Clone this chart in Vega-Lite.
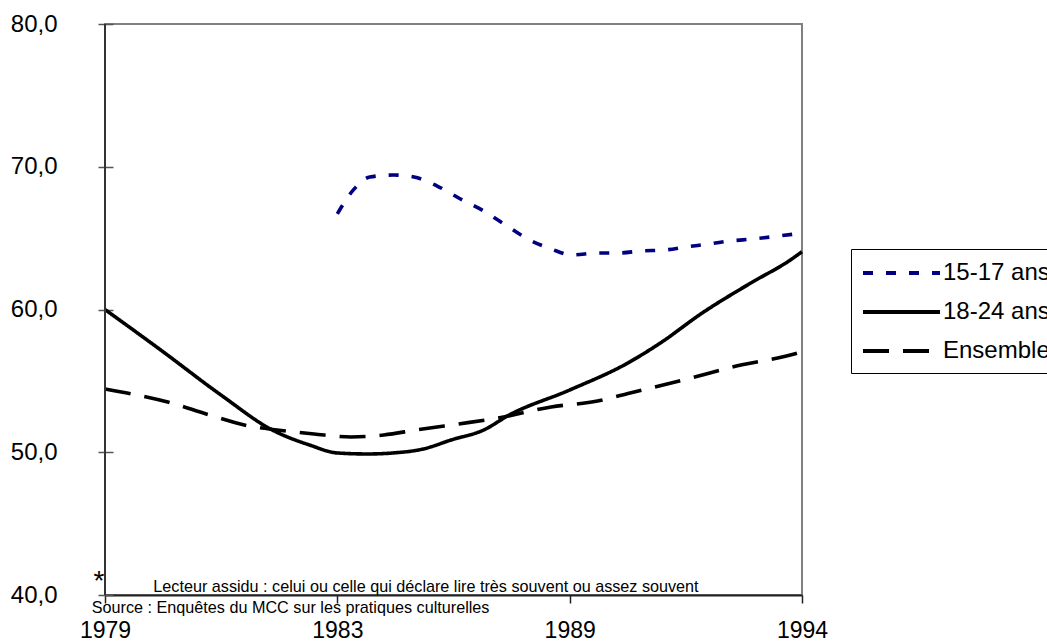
{
  "$schema": "https://vega.github.io/schema/vega-lite/v6.json",
  "width": 697,
  "height": 571,
  "autosize": "none",
  "padding": {"left": 105, "top": 24, "right": 245, "bottom": 46},
  "background": "white",
  "config": {
    "font": "Liberation Sans",
    "view": {"stroke": "#808080", "strokeWidth": 2}
  },
  "datasets": {
    "courbes": [
      {"serie": "15-17 ans", "t": 1.0, "valeur": 66.7},
      {"serie": "15-17 ans", "t": 1.07, "valeur": 68.4},
      {"serie": "15-17 ans", "t": 1.14, "valeur": 69.28},
      {"serie": "15-17 ans", "t": 1.24, "valeur": 69.42},
      {"serie": "15-17 ans", "t": 1.33, "valeur": 69.28},
      {"serie": "15-17 ans", "t": 1.43, "valeur": 68.65},
      {"serie": "15-17 ans", "t": 1.53, "valeur": 67.74},
      {"serie": "15-17 ans", "t": 1.63, "valeur": 66.9},
      {"serie": "15-17 ans", "t": 1.73, "valeur": 65.85},
      {"serie": "15-17 ans", "t": 1.82, "valeur": 64.94},
      {"serie": "15-17 ans", "t": 1.92, "valeur": 64.24},
      {"serie": "15-17 ans", "t": 2.01, "valeur": 63.82},
      {"serie": "15-17 ans", "t": 2.12, "valeur": 63.96},
      {"serie": "15-17 ans", "t": 2.21, "valeur": 63.96},
      {"serie": "15-17 ans", "t": 2.31, "valeur": 64.1},
      {"serie": "15-17 ans", "t": 2.41, "valeur": 64.17},
      {"serie": "15-17 ans", "t": 2.5, "valeur": 64.38},
      {"serie": "15-17 ans", "t": 2.6, "valeur": 64.59},
      {"serie": "15-17 ans", "t": 2.69, "valeur": 64.8},
      {"serie": "15-17 ans", "t": 2.79, "valeur": 64.94},
      {"serie": "15-17 ans", "t": 2.9, "valeur": 65.15},
      {"serie": "15-17 ans", "t": 3.0, "valeur": 65.35},
      {"serie": "18-24 ans", "t": 0.0, "valeur": 60.0},
      {"serie": "18-24 ans", "t": 0.24, "valeur": 57.16},
      {"serie": "18-24 ans", "t": 0.5, "valeur": 54.0},
      {"serie": "18-24 ans", "t": 0.72, "valeur": 51.56},
      {"serie": "18-24 ans", "t": 0.88, "valeur": 50.51},
      {"serie": "18-24 ans", "t": 1.0, "valeur": 49.95},
      {"serie": "18-24 ans", "t": 1.13, "valeur": 49.88},
      {"serie": "18-24 ans", "t": 1.24, "valeur": 49.95},
      {"serie": "18-24 ans", "t": 1.37, "valeur": 50.23},
      {"serie": "18-24 ans", "t": 1.49, "valeur": 50.86},
      {"serie": "18-24 ans", "t": 1.63, "valeur": 51.56},
      {"serie": "18-24 ans", "t": 1.74, "valeur": 52.61},
      {"serie": "18-24 ans", "t": 2.0, "valeur": 54.36},
      {"serie": "18-24 ans", "t": 2.25, "valeur": 56.25},
      {"serie": "18-24 ans", "t": 2.39, "valeur": 57.65},
      {"serie": "18-24 ans", "t": 2.57, "valeur": 59.75},
      {"serie": "18-24 ans", "t": 2.78, "valeur": 61.86},
      {"serie": "18-24 ans", "t": 2.95, "valeur": 63.47},
      {"serie": "18-24 ans", "t": 3.0, "valeur": 64.05},
      {"serie": "Ensemble", "t": 0.0, "valeur": 54.43},
      {"serie": "Ensemble", "t": 0.27, "valeur": 53.52},
      {"serie": "Ensemble", "t": 0.45, "valeur": 52.61},
      {"serie": "Ensemble", "t": 0.62, "valeur": 51.84},
      {"serie": "Ensemble", "t": 0.74, "valeur": 51.56},
      {"serie": "Ensemble", "t": 0.9, "valeur": 51.28},
      {"serie": "Ensemble", "t": 1.06, "valeur": 51.07},
      {"serie": "Ensemble", "t": 1.2, "valeur": 51.21},
      {"serie": "Ensemble", "t": 1.34, "valeur": 51.56},
      {"serie": "Ensemble", "t": 1.52, "valeur": 51.98},
      {"serie": "Ensemble", "t": 1.67, "valeur": 52.33},
      {"serie": "Ensemble", "t": 1.92, "valeur": 53.17},
      {"serie": "Ensemble", "t": 2.12, "valeur": 53.59},
      {"serie": "Ensemble", "t": 2.26, "valeur": 54.15},
      {"serie": "Ensemble", "t": 2.49, "valeur": 55.06},
      {"serie": "Ensemble", "t": 2.7, "valeur": 55.97},
      {"serie": "Ensemble", "t": 2.98, "valeur": 56.95},
      {"serie": "Ensemble", "t": 3.0, "valeur": 57.05}
    ]
  },
  "layer": [
    {
      "data": {"name": "courbes"},
      "mark": {"type": "line", "interpolate": "monotone", "strokeWidth": 3.6, "strokeCap": "butt"},
      "encoding": {
        "x": {
          "field": "t", "type": "quantitative",
          "scale": {"domain": [0, 3], "nice": false, "zero": false},
          "axis": {
            "values": [0, 1, 2, 3],
            "labelExpr": "['1979','1983','1989','1994'][datum.value]",
            "title": null, "grid": false,
            "domainColor": "#222", "domainWidth": 2,
            "tickColor": "#222", "tickWidth": 1.5, "tickSize": 8,
            "labelFontSize": 23, "labelColor": "black", "labelPadding": 16,
            "labelFlush": false, "labelOverlap": false
          }
        },
        "y": {
          "field": "valeur", "type": "quantitative",
          "scale": {"domain": [40, 80], "nice": false, "zero": false},
          "axis": {
            "values": [40, 50, 60, 70, 80],
            "labelExpr": "replace(format(datum.value, '.1f'), '.', ',')",
            "title": null, "grid": false, "domain": false,
            "offset": -8, "tickSize": 15, "tickColor": "#555", "tickWidth": 1.5,
            "labelFontSize": 24, "labelColor": "black", "labelPadding": 41
          }
        },
        "color": {
          "field": "serie", "type": "nominal",
          "scale": {"domain": ["15-17 ans", "18-24 ans", "Ensemble"], "range": ["#000080", "#000000", "#000000"]},
          "legend": {
            "title": null, "orient": "none", "legendX": 746, "legendY": 225,
            "strokeColor": "black", "fillColor": "white", "padding": 10,
            "labelFontSize": 24, "labelColor": "black", "labelOffset": 54,
            "rowPadding": 13,
            "symbolType": "M-1,0H5.42", "symbolSize": 576, "symbolStrokeWidth": 4
          }
        },
        "strokeDash": {
          "field": "serie", "type": "nominal",
          "scale": {"domain": ["15-17 ans", "18-24 ans", "Ensemble"], "range": [[10, 13], [1, 0], [26, 14]]},
          "legend": {
            "title": null, "orient": "none", "legendX": 746, "legendY": 225,
            "strokeColor": "black", "fillColor": "white", "padding": 10,
            "labelFontSize": 24, "labelColor": "black", "labelOffset": 54,
            "rowPadding": 13,
            "symbolType": "M-1,0H5.42", "symbolSize": 576, "symbolStrokeWidth": 4
          }
        }
      }
    },
    {
      "data": {"values": [{}]},
      "mark": {"type": "rule", "color": "#333", "strokeWidth": 2},
      "encoding": {"x": {"datum": 0}, "y": {"datum": 40}, "y2": {"datum": 80}}
    },
    {
      "data": {"values": [{}]},
      "mark": {"type": "text", "align": "center", "baseline": "alphabetic", "fontSize": 28, "color": "black"},
      "encoding": {"x": {"datum": -0.026}, "y": {"datum": 40.35}, "text": {"value": "*"}}
    },
    {
      "data": {"values": [{}]},
      "mark": {"type": "text", "align": "left", "baseline": "alphabetic", "fontSize": 16.2, "color": "black"},
      "encoding": {"x": {"datum": 0.208}, "y": {"datum": 40.23}, "text": {"value": "Lecteur assidu : celui ou celle qui déclare lire très souvent ou assez souvent"}}
    },
    {
      "data": {"values": [{}]},
      "mark": {"type": "text", "align": "left", "baseline": "alphabetic", "fontSize": 16.2, "color": "black"},
      "encoding": {"x": {"datum": -0.057}, "y": {"datum": 38.72}, "text": {"value": "Source : Enquêtes du MCC sur les pratiques culturelles"}}
    }
  ]
}
